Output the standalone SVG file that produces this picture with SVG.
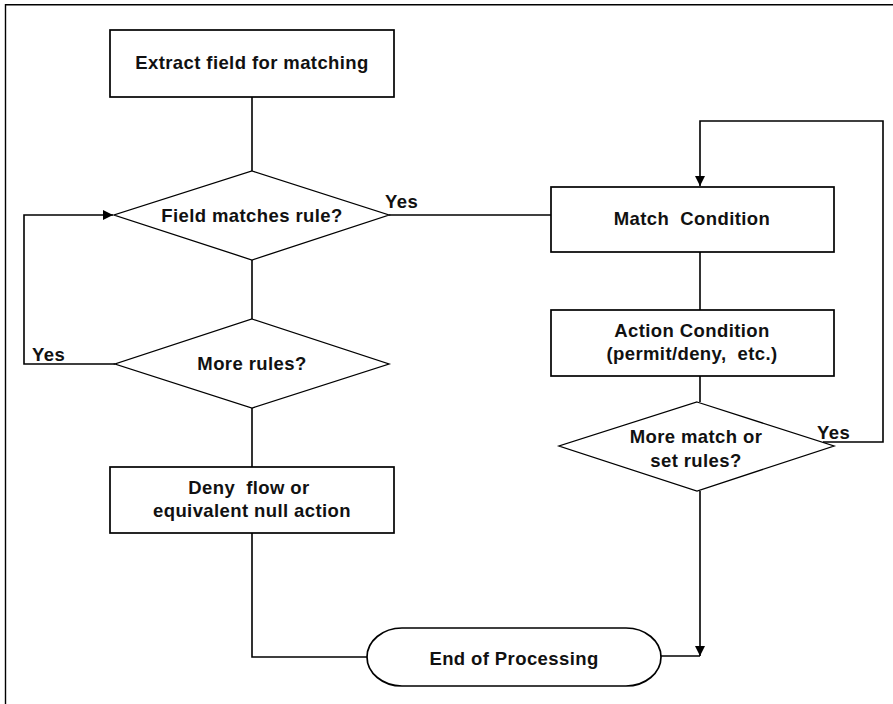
<svg xmlns="http://www.w3.org/2000/svg" width="893" height="704" viewBox="0 0 893 704">
  <style>
    .box { fill: #fff; stroke: #000; stroke-width: 1.7; }
    .dia { fill: #fff; stroke: #000; stroke-width: 1.3; }
    .wire { fill: none; stroke: #000; stroke-width: 1.6; }
    .frame { fill: none; stroke: #000; stroke-width: 1.4; }
    text { font-family: "Liberation Sans", Arial, Helvetica, sans-serif; font-weight: bold; font-size: 18.5px; letter-spacing: 0.4px; fill: #111; text-anchor: middle; white-space: pre; }
    .lbl { text-anchor: start; }
  </style>
  <defs>
    <marker id="arrow" viewBox="0 0 10 10" refX="10" refY="5" markerWidth="10" markerHeight="10" markerUnits="userSpaceOnUse" orient="auto">
      <path d="M0,0 L10,5 L0,10 Z" fill="#000"/>
    </marker>
  </defs>

  <!-- page frame (top and left edges) -->
  <path class="frame" d="M5.5,704 V4.7 H893"/>

  <g id="connectors">
    <path class="wire" d="M252,97 V171"/>
    <path class="wire" d="M252,260 V319"/>
    <path class="wire" d="M252,408 V467"/>
    <path class="wire" d="M389,215 H551"/>
    <path class="wire" d="M115,364 H24 V215 H113" marker-end="url(#arrow)"/>
    <path class="wire" d="M252,533 V657 H368"/>
    <path class="wire" d="M700,252 V310"/>
    <path class="wire" d="M700,376 V402"/>
    <path class="wire" d="M823,442 H883 V121 H700 V186" marker-end="url(#arrow)"/>
    <path class="wire" d="M700,491 V656"/>
    <path class="wire" d="M660,656 H700"/>
    <path d="M695,646 L705,646 L700,656 Z" fill="#000"/>
    <text class="lbl" x="385" y="208">Yes</text>
    <text class="lbl" x="32" y="361">Yes</text>
    <text class="lbl" x="817" y="439">Yes</text>
  </g>

  <g id="extract">
    <rect class="box" x="110" y="30" width="284" height="67"/>
    <text x="252" y="69">Extract field for matching</text>
  </g>

  <g id="field-matches">
    <polygon class="dia" points="252,171 389,215 252,260 114,215"/>
    <text x="252" y="222">Field matches rule?</text>
  </g>

  <g id="more-rules">
    <polygon class="dia" points="252,319 389,364 252,408 115,364"/>
    <text x="252" y="370">More rules?</text>
  </g>

  <g id="deny">
    <rect class="box" x="110" y="467" width="284" height="66"/>
    <text x="249" y="494" xml:space="preserve">Deny  flow or</text>
    <text x="252" y="517">equivalent null action</text>
  </g>

  <g id="match-condition">
    <rect class="box" x="551" y="187" width="283" height="65"/>
    <text x="692" y="225" xml:space="preserve">Match  Condition</text>
  </g>

  <g id="action-condition">
    <rect class="box" x="551" y="310" width="283" height="66"/>
    <text x="692" y="337">Action Condition</text>
    <text x="692" y="360" xml:space="preserve">(permit/deny,  etc.)</text>
  </g>

  <g id="more-match">
    <polygon class="dia" points="697,402 834,446 697,491 559,446"/>
    <text x="696" y="443">More match or</text>
    <text x="696" y="467">set rules?</text>
  </g>

  <g id="end">
    <path class="box" d="M402,628 H626 A35,29 0 0 1 626,686 H402 A35,29 0 0 1 402,628 Z"/>
    <text x="514" y="665">End of Processing</text>
  </g>
</svg>
